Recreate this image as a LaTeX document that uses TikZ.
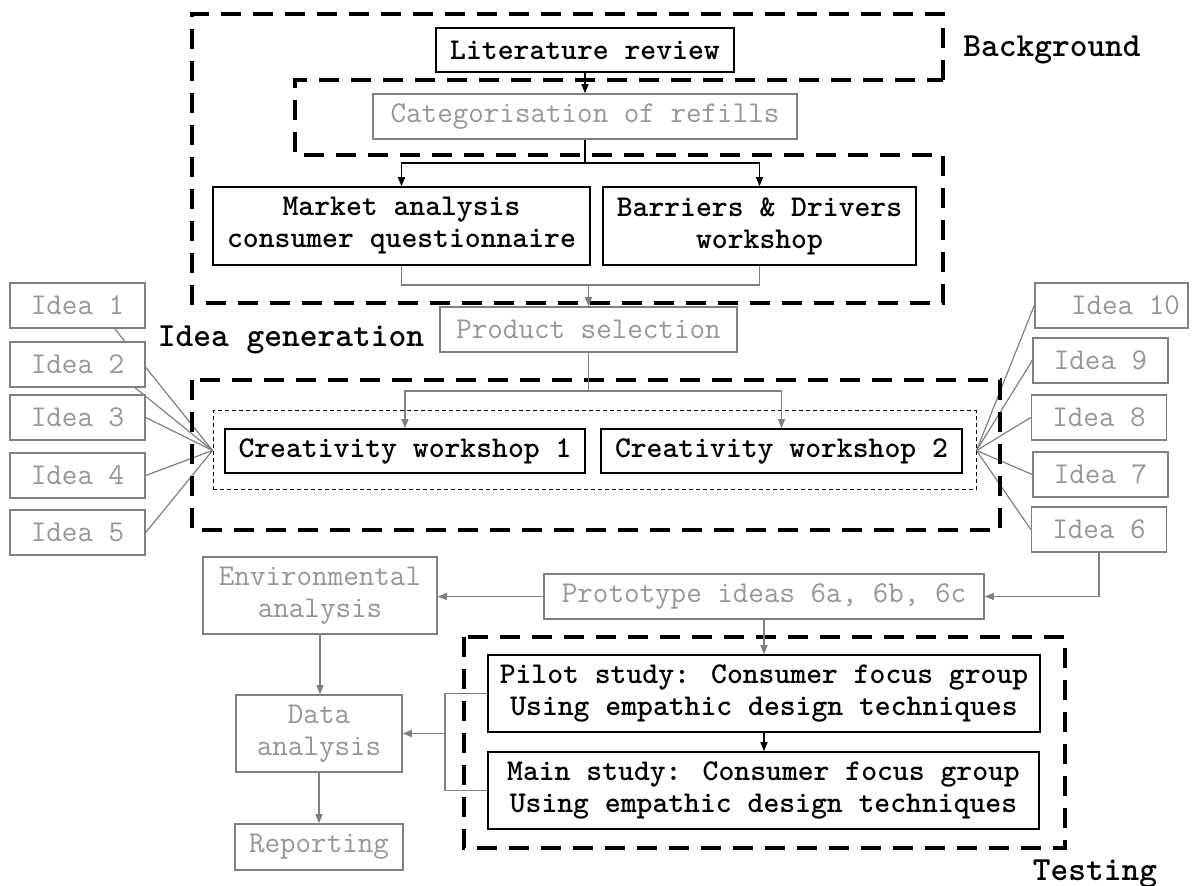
\documentclass[tikz,border=0pt]{standalone}
\usepackage{fontspec}
\usetikzlibrary{arrows.meta}
\pgfdeclarelayer{bg}
\pgfsetlayers{bg,main}
\definecolor{txtgray}{RGB}{150,150,150}
\definecolor{lngray}{RGB}{128,128,128}
\begin{document}
\begin{tikzpicture}[x=0.5pt,y=-0.5pt,
 bbox/.style={draw=black,line width=0.75pt,fill=white,inner sep=0pt,align=center,font=\ttfamily\bfseries\fontsize{15.1}{16}\selectfont},
 gbox/.style={draw=lngray,line width=0.75pt,fill=white,text=txtgray,inner sep=0pt,align=center,font=\ttfamily\fontsize{15.1}{16}\selectfont},
 region/.style={draw=black,line width=2pt,dash pattern=on 10pt off 6pt},
 innerreg/.style={draw=black,line width=0.5pt,dash pattern=on 2pt off 1.5pt},
 lbl/.style={font=\ttfamily\bfseries\fontsize{16.9}{18}\selectfont,inner sep=0pt},
 barr/.style={draw=black,line width=0.6pt,-{Triangle[length=4.5pt,width=3.5pt]}},
 bline/.style={draw=black,line width=0.6pt},
 garr/.style={draw=lngray,line width=0.6pt,-{Triangle[length=4.5pt,width=3.5pt]}},
 gline/.style={draw=lngray,line width=0.6pt},
 sz/.style 2 args={minimum width=#1*0.5pt,minimum height=#2*0.5pt}
]
\useasboundingbox (0,0) rectangle (1194,886);

% regions
\draw[region] (943,80) -- (943,14) -- (192,14) -- (192,303) -- (943,303) -- (943,155) -- (295,155) -- (295,80) -- cycle;
\draw[region] (192,380) rectangle (1000,530);
\draw[region] (464,637) rectangle (1065,848);

% labels
\node[lbl] (lblbg) at (1052,50) {Background};
\node[lbl] (lblig) at (291,340) {Idea generation};
\node[lbl] (lblt) at (1095,874) {Testing};

% background nodes
\node[bbox,sz={298}{44}] (lit) at (585,50) {Literature review};
\node[gbox,sz={424}{45}] (cat) at (585,116.5) {Categorisation of refills};
\node[bbox,sz={377}{78}] (mkt) at (401.5,226) {Market analysis\\consumer questionnaire};
\node[bbox,sz={313}{78}] (bar) at (759.5,226) {Barriers \& Drivers\\workshop};
\node[gbox,sz={297}{45}] (prod) at (588.5,329.5) {Product selection};

% idea generation
\node[innerreg,sz={763}{79}] (cwbox) at (594.5,450.5) {};
\node[bbox,sz={360}{44}] (cw1) at (405,451) {Creativity workshop 1};
\node[bbox,sz={361}{44}] (cw2) at (781.5,451) {Creativity workshop 2};

\node[gbox,sz={135}{45}] (i1) at (77.5,305.5) {Idea 1};
\node[gbox,sz={135}{45}] (i2) at (77.5,364.5) {Idea 2};
\node[gbox,sz={135}{45}] (i3) at (77.5,417.5) {Idea 3};
\node[gbox,sz={135}{45}] (i4) at (77.5,475.5) {Idea 4};
\node[gbox,sz={135}{45}] (i5) at (77.5,532.5) {Idea 5};

\node[gbox,sz={153}{45}] (i10) at (1111.5,305.5) {\hspace*{14pt}Idea 10};
\node[gbox,sz={135}{45}] (i9) at (1100.5,360.5) {Idea 9};
\node[gbox,sz={135}{45}] (i8) at (1099,417.5) {Idea 8};
\node[gbox,sz={135}{45}] (i7) at (1100.5,474.5) {Idea 7};
\node[gbox,sz={135}{45}] (i6) at (1099,529.5) {Idea 6};

% later stages
\node[gbox,sz={440}{45}] (proto) at (764,596.5) {Prototype ideas 6a, 6b, 6c};
\node[gbox,sz={234}{77}] (env) at (320,595.5) {Environmental\\analysis};
\node[gbox,sz={166}{77}] (data) at (319,733.5) {Data\\analysis};
\node[gbox,sz={168}{46}] (rep) at (319,847) {Reporting};
\node[bbox,sz={552}{77}] (pilot) at (764,693.5) {Pilot study: Consumer focus group\\Using empathic design techniques};
\node[bbox,sz={551}{77}] (main) at (763.5,790.5) {Main study: Consumer focus group\\Using empathic design techniques};

% connectors
\coordinate (catj) at (585,163);
\coordinate (mbj) at (588.5,285);
\coordinate (pj) at (588.5,391);
\coordinate (tj) at (445,733.5);

\draw[barr] (lit) -- (cat);
\draw[bline] (cat.south) -- (catj);
\draw[barr] (catj) -| (mkt.north);
\draw[barr] (catj) -| (bar.north);

\draw[gline] (mkt.south) |- (mbj) -| (bar.south);
\draw[garr] (mbj) -- (prod.north);

\draw[gline] (prod.south) -- (pj);
\draw[garr] (pj) -| (cw1.north);
\draw[garr] (pj) -| (cw2.north);

\begin{pgfonlayer}{bg}
\draw[gline] (i1.-32) -- (cwbox.west);
\draw[gline] (i2.-22) -- (cwbox.west);
\draw[gline] (i3.east) -- (cwbox.west);
\draw[gline] (i4.east) -- (cwbox.west);
\draw[gline] (i5.east) -- (cwbox.west);
\draw[gline] (i10.west) -- (cwbox.east);
\draw[gline] (i9.west) -- (cwbox.east);
\draw[gline] (i8.west) -- (cwbox.east);
\draw[gline] (i7.west) -- (cwbox.east);
\draw[gline] (i6.west) -- (cwbox.east);
\end{pgfonlayer}

\draw[garr] (i6.south) |- (proto.east);
\draw[garr] (proto.west) -- (proto.west -| env.east);
\draw[garr] (env.south) -- (env.south |- data.north);
\draw[garr] (data) -- (rep);
\draw[garr] (proto.south) -- (proto.south |- pilot.north);
\draw[barr] (pilot.south) -- (pilot.south |- main.north);
\draw[gline] (pilot.west) -| (tj) |- (main.west);
\draw[garr] (tj) -- (data.east);
\end{tikzpicture}
\end{document}
